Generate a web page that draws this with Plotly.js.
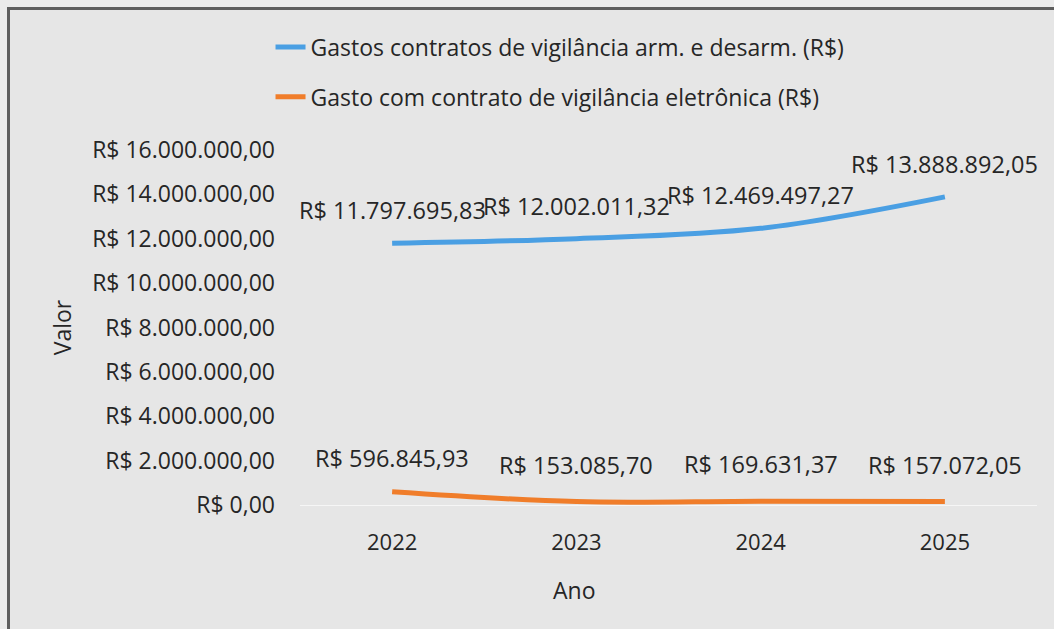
<!DOCTYPE html>
<html>
<head>
<meta charset="utf-8">
<script src="https://cdn.plot.ly/plotly-3.0.1.min.js"></script>
<style>
  body { margin: 0; background: #ebebeb; }
  #frame { position: absolute; left: 7px; top: 7px; width: 1100px; height: 700px;
           border-left: 3px solid #5e5e5e; border-top: 3px solid #5e5e5e; background: #e6e6e6; }
  #chart { position: absolute; left: 0; top: 0; width: 1054px; height: 629px; }
</style>
</head>
<body>
<div id="frame"></div>
<div id="chart"></div>
<script>
// dados do gráfico
var anos = ["2022", "2023", "2024", "2025"];
var gastosArmados = [11797695.83, 12002011.32, 12469497.27, 13888892.05];
var gastosEletronica = [596845.93, 153085.70, 169631.37, 157072.05];
var nomeArmados = "Gastos contratos de vigilância arm. e desarm. (R$)";
var nomeEletronica = "Gasto com contrato de vigilância eletrônica (R$)";
var ticksY = [0, 2000000, 4000000, 6000000, 8000000, 10000000, 12000000, 14000000, 16000000];

var fonte = "Open Sans, sans-serif";
var corTexto = "#262626";

// formata no padrão brasileiro
function reais(v) {
    var partes = v.toFixed(2).split(".");
    var inteiro = partes[0].replace(/\B(?=(\d{3})+(?!\d))/g, ".");
    return "R$ " + inteiro + "," + partes[1];
}

var trace1 = {
    x: anos,
    y: gastosArmados,
    name: nomeArmados,
    type: "scatter",
    mode: "lines",
    line: {color: "#4a9fe3", width: 5, shape: "spline"},
    legend: "legend"
};

var trace2 = {
    x: anos,
    y: gastosEletronica,
    name: nomeEletronica,
    type: "scatter",
    mode: "lines",
    line: {color: "#f07d2a", width: 5, shape: "spline"},
    legend: "legend2"
};

var data = [trace1, trace2];

// rótulos de dados acima dos pontos (x pelo índice da categoria)
var anotacoes = [];
anos.forEach(function(a, i) {
    anotacoes.push({x: i, y: gastosArmados[i], text: reais(gastosArmados[i]), showarrow: false,
        yshift: 33, font: {family: fonte, size: 23.5, color: corTexto}});
    anotacoes.push({x: i, y: gastosEletronica[i], text: reais(gastosEletronica[i]), showarrow: false,
        yshift: i == 0 ? 34 : 37, font: {family: fonte, size: 23.5, color: corTexto}});
});

// título do eixo x (no original fica deslocado para a esquerda)
anotacoes.push({xref: "paper", yref: "paper", x: 0.373, y: -0.24, text: "Ano", showarrow: false,
    xanchor: "center", yanchor: "middle", font: {family: fonte, size: 23, color: corTexto}});

var legendaBase = {
    xref: "paper", yref: "paper", xanchor: "left", yanchor: "middle",
    bgcolor: "rgba(0,0,0,0)", font: {family: fonte, size: 23, color: corTexto}
};

var layout = {
    width: 1054,
    height: 629,
    paper_bgcolor: "rgba(0,0,0,0)",
    plot_bgcolor: "rgba(0,0,0,0)",
    margin: {l: 300, r: 17, t: 150, b: 124},
    showlegend: true,
    legend: Object.assign({x: -0.04, y: 1.29}, legendaBase),
    legend2: Object.assign({x: -0.04, y: 1.15}, legendaBase),
    xaxis: {
        type: "category",
        range: [-0.5, 3.5],
        showgrid: false,
        zeroline: false,
        showline: false,
        ticks: "",
        ticklabelstandoff: 22,
        tickfont: {family: fonte, size: 22, color: corTexto}
    },
    yaxis: {
        range: [0, 16000000],
        tickmode: "array",
        tickvals: ticksY,
        ticktext: ticksY.map(reais),
        showgrid: false,
        zeroline: true,
        zerolinecolor: "#f6f6f6",
        zerolinewidth: 1,
        ticks: "",
        ticklabelstandoff: 24,
        tickfont: {family: fonte, size: 23, color: corTexto},
        title: {text: "Valor", font: {family: fonte, size: 23, color: corTexto}, standoff: 14}
    },
    annotations: anotacoes
};

Plotly.newPlot("chart", data, layout, {displayModeBar: false});
</script>
</body>
</html>
